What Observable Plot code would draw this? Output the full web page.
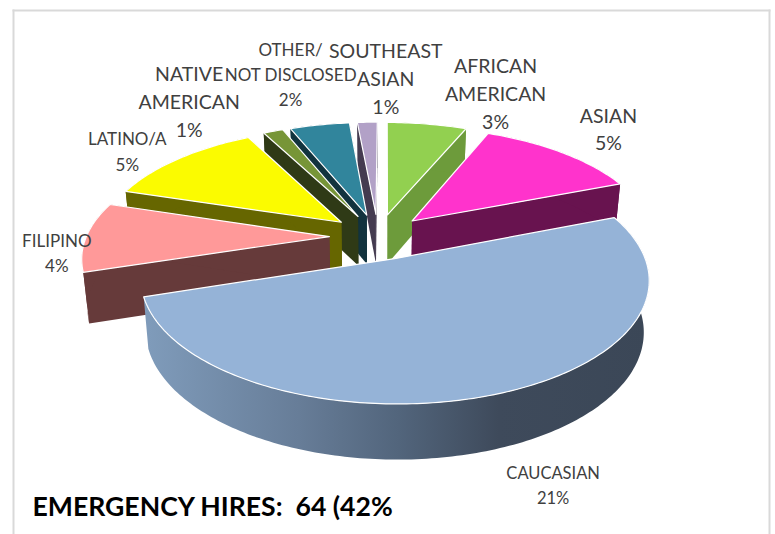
<!DOCTYPE html>
<html>
<head>
<meta charset="utf-8">
<script src="https://cdn.jsdelivr.net/npm/d3@7"></script>
<script src="https://cdn.jsdelivr.net/npm/@observablehq/plot@0.6"></script>
<style>html,body{margin:0;padding:0;background:#fff}svg{display:block}</style>
</head>
<body>
<div id="chart"></div>
<script>
// DATA (clockwise from 12 o'clock)
const categories = ["AFRICAN\nAMERICAN", "ASIAN", "CAUCASIAN", "FILIPINO", "LATINO/A", "NATIVE\nAMERICAN", "OTHER/\nNOT DISCLOSED", "SOUTHEAST\nASIAN"];
const hires = [4, 8.2, 32.65, 6.15, 8, 1, 3, 1];
const percentLabels = ["3%", "5%", "21%", "4%", "5%", "1%", "2%", "1%"];
const title = "EMERGENCY HIRES:\u00a0 64 (42%";

// STYLE
const topColors = ["#92d050", "#ff33cc", "#95b3d7", "#ff9999", "#fbfb00", "#779537", "#31859c", "#b2a1c7"];
const sideColors = ["#6d9b3b", "#68134f", "url(#cauc)", "#663a3a", "#666600", "#2f3a16", "#12333e", "#443b50"];
const labelDx = [68.5, 46, 57.5, -29.5, -51, -84, -29, 18.5];
const labelDy = [-32, -25, 89, 15, -9, -31, -52, -45];
const labelSize = [19.5, 19.5, 16.5, 17, 17, 19.5, 17, 19.5];
const labelLead = [1.42, 1.42, 1.5, 1.47, 1.5, 1.42, 1.47, 1.42];
const paintOrder = [7, 6, 5, 0, 4, 1, 3, 2];

// PROJECTION of the tilted, exploded pie
const W = 775, H = 534;
const cx = 377.5, cy = 236, A = 243, a = 113.8, b = 0.1616, explode = 0.2, depth = 50, shrink = 0.98, rot = 0.3;
const rad = (d) => (d + rot) * Math.PI / 180;
const total = d3.sum(hires);
let acc = 0;
const slices = hires.map((v, i) => {
  const t0 = acc * 360 / total; acc += v; const t1 = acc * 360 / total;
  return {i, t0, t1, m: (t0 + t1) / 2};
});
function proj(s, t, r, lower) {
  const X = r * Math.sin(rad(t)) + explode * Math.sin(rad(s.m));
  const Y = -r * Math.cos(rad(t)) - explode * Math.cos(rad(s.m));
  const w = 1 - b * Y;
  let x = A * X / w, y = cy + a * Y / w;
  if (lower) { y += depth / Math.sqrt(w); x *= shrink; }
  return {x: cx + x, y};
}
function arcAngles(s) {
  const out = [s.t0];
  for (let t = Math.ceil(s.t0); t < s.t1; t++) if (t > s.t0) out.push(t);
  out.push(s.t1);
  return out;
}
const polygon = (points, fill, stroke, strokeWidth = 0) =>
  Plot.line(points, {x: "x", y: "y", curve: "linear-closed", fill, stroke: stroke, strokeWidth, strokeLinejoin: "round"});

const pieMarks = [];
for (const i of paintOrder) {
  const s = slices[i], ts = arcAngles(s);
  const side = sideColors[i];
  if (i !== 2) {
    for (const t of [s.t0, s.t1]) {
      pieMarks.push(polygon([proj(s, 0, 0, false), proj(s, t, 1, false), proj(s, t, 1, true), proj(s, 0, 0, true)], side, "none"));
    }
  }
  const wall = [...ts.map(t => proj(s, t, 1, false)), ...ts.slice().reverse().map(t => proj(s, t, 1, true))];
  pieMarks.push(polygon(wall, side, "none"));
  pieMarks.push(polygon([proj(s, 0, 0, false), ...ts.map(t => proj(s, t, 1, false))], topColors[i], "#ffffff", 1.2));
}

const textMarks = slices.map(s => {
  const p = proj(s, s.m, 1, false);
  return Plot.text([p], {
    x: "x", y: "y", text: () => categories[s.i] + "\n" + percentLabels[s.i],
    dx: labelDx[s.i], dy: labelDy[s.i], fontSize: labelSize[s.i], lineHeight: labelLead[s.i],
    fill: "#404040", textAnchor: "middle", lineAnchor: "middle", fontFamily: "Lato"
  });
});

const defs = () => {
  const d = d3.create("svg:defs");
  const g = d.append("linearGradient").attr("id", "cauc").attr("gradientUnits", "userSpaceOnUse")
    .attr("x1", 148).attr("x2", 648).attr("y1", 0).attr("y2", 0);
  [[0, "#7f9bba"], [0.3, "#677d98"], [0.5, "#52657c"], [0.7, "#3e4a5b"], [1, "#3b4757"]]
    .forEach(([o, c]) => g.append("stop").attr("offset", o).attr("stop-color", c));
  return d.node();
};

const chart = Plot.plot({
  width: W, height: H, margin: 0,
  style: {background: "#fff", fontFamily: "Lato"},
  x: {domain: [0, W], range: [0, W], axis: null},
  y: {domain: [0, H], range: [0, H], axis: null},
  marks: [
    defs,
    Plot.frame({anchor: "left", stroke: "#d9d9d9", strokeWidth: 2, insetLeft: 13, insetTop: 10}),
    Plot.frame({anchor: "top", stroke: "#d9d9d9", strokeWidth: 2, insetLeft: 13, insetTop: 10, insetRight: 6}),
    Plot.frame({anchor: "right", stroke: "#d9d9d9", strokeWidth: 2, insetTop: 10, insetRight: 6}),
    ...pieMarks,
    ...textMarks,
    Plot.text([title], {frameAnchor: "bottom-left", dx: 32, dy: -19, fontSize: 26.6, fontWeight: 700, fill: "#000", textAnchor: "start", fontFamily: "Lato"})
  ]
});
document.getElementById("chart").append(chart);
</script>
</body>
</html>
